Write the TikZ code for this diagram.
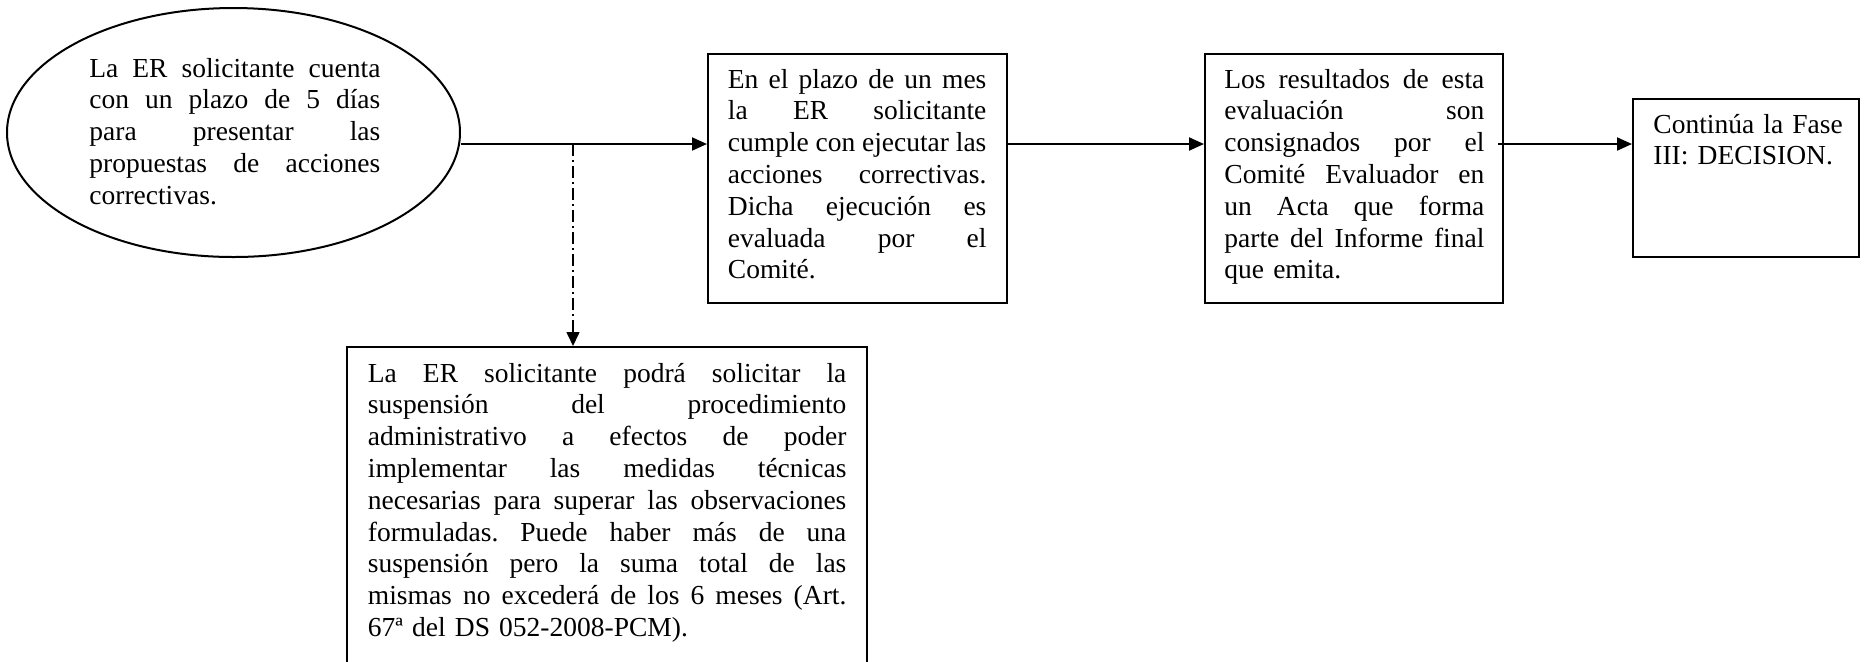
\documentclass[tikz,border=0pt]{standalone}
\usepackage{fontspec}
\setmainfont{Liberation Serif}
\usetikzlibrary{shapes.geometric,arrows.meta}
\newlength\jw
\newcommand{\jl}[1]{\leavevmode\hbox to\jw{\spaceskip=0.25em plus 1fil minus 0.06em\relax #1}\\}
\frenchspacing
\begin{document}
\begin{tikzpicture}[x=0.5pt,y=-0.5pt,
  box/.style={draw, line width=1pt, rectangle, inner sep=0pt},
  txt/.style={anchor=base west, inner sep=0pt, font=\fontsize{13.75pt}{15.9pt}\selectfont\frenchspacing},
  arr/.style={line width=1pt, -{Triangle[length=7.5pt,width=6.5pt]}},
  darr/.style={line width=0.75pt, dash pattern=on 6pt off 2pt on 1pt off 2pt, -{Triangle[length=7pt,width=6.5pt]}}]
\useasboundingbox (0,0) rectangle (1864,661);
\node[ellipse, draw, line width=1pt, minimum width=226.5pt, minimum height=124.5pt, inner sep=0pt] (b1) at (233.5,132.5) {};
\node[box, minimum width=149.5pt, minimum height=124.5pt] (b2) at (857.5,178.5) {};
\node[box, minimum width=149pt, minimum height=124.5pt] (b3) at (1354,178.5) {};
\node[box, minimum width=113pt, minimum height=79pt] (b4) at (1746,178) {};
\node[box, minimum width=260pt, minimum height=171.5pt] (b5) at (607,518.5) {};
\node[txt, text width=145.5pt] (t1) at (89,77) {\setlength\jw{145.5pt}\jl{La ER solicitante cuenta}\jl{con un plazo de 5 días}\jl{para presentar las}\jl{propuestas de acciones}correctivas.};
\node[txt, text width=129.25pt] (t2) at (727.5,88) {\setlength\jw{129.25pt}\jl{En el plazo de un mes}\jl{la ER solicitante}\jl{cumple con ejecutar las}\jl{acciones correctivas.}\jl{Dicha ejecución es}\jl{evaluada por el}Comité.};
\node[txt, text width=130pt] (t3) at (1224,88) {\setlength\jw{130pt}\jl{Los resultados de esta}\jl{evaluación son}\jl{consignados por el}\jl{Comité Evaluador en}\jl{un Acta que forma}\jl{parte del Informe final}que emita.};
\node[txt, text width=100pt] (t4) at (1653,133) {Continúa la Fase\\III: DECISION.};
\node[txt, text width=239.25pt] (t5) at (367.5,382) {\setlength\jw{239.25pt}\jl{La ER solicitante podrá solicitar la}\jl{suspensión del procedimiento}\jl{administrativo a efectos de poder}\jl{implementar las medidas técnicas}\jl{necesarias para superar las observaciones}\jl{formuladas. Puede haber más de una}\jl{suspensión pero la suma total de las}\jl{mismas no excederá de los 6 meses (Art.}67ª del DS 052-2008-PCM).};
\coordinate (ly) at (0,144);
\coordinate (br) at (573,144);
\draw[arr] (b1.east |- ly) -- (b2.west |- ly);
\draw[darr] (br) -- (br |- b5.north);
\draw[arr] (b2.east |- ly) -- (b3.west |- ly);
\draw[arr] (b3.east |- ly) ++(-3pt,0) -- (b4.west |- ly);
\end{tikzpicture}
\end{document}
